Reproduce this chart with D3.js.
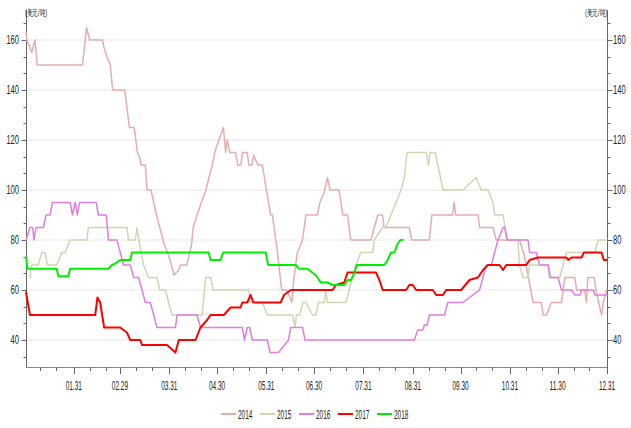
<!DOCTYPE html>
<html>
<head>
<meta charset="utf-8">
<script src="https://cdn.jsdelivr.net/npm/d3@7"></script>
<style>
body{margin:0;background:#fff;}
text{font-family:"Liberation Sans","Arial",sans-serif;fill:#222;}
</style>
</head>
<body>
<script>
const SvgWidth = 631, SvgHeight = 428;
var margin = {top: 10, right: 24, bottom: 61, left: 26};
var Width = SvgWidth - margin.left - margin.right;
var Height = SvgHeight - margin.top - margin.bottom;

// day of year (0 = 01.01, leap-year calendar), price
const years = ['2014','2015','2016','2017','2018'];
const colors = ['#e6adad','#cdd8b0','#e07ee0','#ff0000','#00ee00'];
const widths = [1.5,1.5,1.5,2,2];

const s2014 = [[0,163],[0.5,160],[3.6,155],[5.7,160],[7,150],[35.5,150],[38,165],[40,160],[48,160],[49,157],[51,153],[53,150],[54.4,140],[62,140],[65,125],[68,125],[70,115],[71.4,113],[72.3,110],[75,110],[76,100],[78.5,100],[82,90],[86.5,79],[90,73],[93,66],[96,68],[97,70],[101,70],[104,78],[105,85],[107.5,90],[110.7,96],[113,100],[117,110],[119,116],[124,125],[125.4,115],[126.4,120],[128,115],[131.7,115],[133,110],[135,110],[136,115],[139,115],[140,110],[142,110],[143,114],[145.7,110],[148.5,110],[150.5,102],[153.7,90],[154.8,90],[158,75],[160.6,60],[164,60],[167,55],[168.4,65],[170.5,75],[173.7,80],[175.8,90],[183,90],[184.6,95],[187.3,99],[189.4,105],[191,100],[196.7,100],[199,90],[202,90],[204,80],[216.7,80],[218.8,85],[221,90],[224,90],[225,85],[240.8,85],[242.3,80],[253.4,80],[255,90],[268,90],[269,95],[270,90],[284,90],[285,85],[293.4,85],[295.4,80],[310,80],[313,74],[318.6,55],[323.8,55],[324.9,50],[327,50],[330,55],[336.4,55],[338.5,65],[344.8,65],[345.9,60],[351,60],[352,55],[353,65],[357,65],[358,60],[361.6,50],[362.7,55],[364.7,60],[365,60]];
const s2015 = [[2.5,65],[3.6,70],[7.7,70],[9.9,75],[12,75],[13.4,70],[19.3,70],[22.5,75],[24.6,75],[27.7,80],[38.2,80],[39.2,85],[63.4,85],[64.4,80],[68.7,80],[69.7,85],[72.3,75],[73.9,70],[77,65],[82.3,65],[84,60],[87.6,60],[89.6,55],[91.8,50],[110.7,50],[112.8,65],[116,65],[117.6,60],[140,60],[141,55],[148.5,55],[151.6,50],[167.4,50],[169,45],[169.9,50],[172,50],[174,55],[175.8,55],[180,50],[182,50],[183.8,55],[187.3,55],[188.4,60],[189.3,55],[201,55],[203,60],[205,65],[207.3,70],[210.4,75],[217.8,75],[218.8,80],[224,85],[226,85],[229.3,90],[232.5,95],[235.6,100],[237.7,105],[239.4,115],[251.4,115],[252.8,110],[254,115],[257,115],[258.7,110],[260.4,105],[262,100],[274.5,100],[278.6,102.5],[282.8,105],[286,100],[290.2,100],[293.4,95],[294.4,90],[299.7,90],[301,85],[302,80],[309,80],[310,70],[312.3,65],[315.4,65],[316.4,70],[328,70],[330,65],[335.3,65],[337.4,70],[339.5,75],[357.4,75],[359.5,80],[365,80]];
const s2016 = [[0,80],[2.5,85],[4.2,85],[5,80],[6.3,85],[10.9,85],[12.6,90],[15.1,90],[16.6,95],[27.7,95],[29.2,90],[30.9,95],[32.3,90],[33.6,95],[44.1,95],[45.5,90],[50.4,90],[51.8,80],[57.1,80],[59.2,75],[61.3,70],[65.5,70],[67.6,65],[70.7,65],[72.9,60],[75,55],[78.1,55],[80.2,50],[82.3,45],[93.9,45],[94.9,50],[107.5,50],[109.6,45],[135.9,45],[137.3,40],[139,45],[140.5,45],[142.2,40],[151.6,40],[153.3,35],[158.6,35],[164.9,40],[166.3,45],[173.7,45],[175.3,40],[244,40],[246.1,44],[249.3,44],[250.3,46],[252,46],[253.4,50],[262.9,50],[265,55],[274.5,55],[278.6,57],[284.9,60],[287.1,65],[289.2,70],[292.3,70],[294.4,75],[296.5,80],[299.7,85],[300.7,85],[302.4,80],[315.4,80],[316.4,75],[320.6,75],[322.7,70],[328,70],[329,65],[334.3,65],[336.4,60],[342.7,60],[344.8,58],[348,58],[349,60],[356.4,60],[357.4,58],[365,58]];
const s2017 = [[0,59],[2.5,50],[43.5,50],[44.9,57],[46.6,55],[49.1,45],[59.2,45],[63.4,43],[65.5,40],[71.8,40],[72.9,38],[88.6,38],[93.9,35],[96,40],[106.5,40],[109.6,45],[113.8,48],[115.9,50],[124.3,50],[128.5,53],[134.8,53],[135.9,55],[139,55],[141.1,58],[142.8,55],[160,55],[162.1,58],[166.3,60],[192.6,60],[194.7,62],[199.9,63],[202,67],[219.9,67],[222,64],[224.1,60],[238.8,60],[240.8,62],[243,62],[245.1,60],[255.6,60],[257.7,58],[261.9,58],[264,60],[273.4,60],[278.6,64],[283.9,65],[287.1,68],[290.2,70],[297.5,70],[299.7,68],[301.7,70],[314.3,70],[316.4,72],[321.7,73],[339.5,73],[340.6,72],[342.7,73],[349,73],[350.5,75],[361.6,75],[363,72],[364.7,72]];
const s2018 = [[0,73],[1,68.5],[19.3,68.5],[20.3,65.5],[26.6,65.5],[27.7,68.5],[51.8,68.5],[54,70],[56,70.5],[59.2,72],[65.5,72],[66.6,75],[114.8,75],[115.9,72],[122.2,72],[123.9,75],[150.6,75],[152.1,70],[169.5,70],[171.5,68.5],[176.8,68.5],[182,66],[185.2,63],[189.4,63],[192.6,62],[199.9,62],[202,64],[204.1,64],[206.2,66.5],[207.7,70],[225.1,70],[227.2,72],[229.3,75],[231.4,75],[233.5,78.5],[235.2,80],[236.7,80]];
const series = [s2014,s2015,s2016,s2017,s2018];

const monthEnds = [30,59,90,120,151,181,212,243,273,304,334,365];
const monthLabels = ['01.31','02.29','03.31','04.30','05.31','06.30','07.31','08.31','09.30','10.31','11.30','12.31'];
const yTicks = [40,60,80,100,120,140,160];
const unitLabel = '(美元/吨)';

var svg = d3.select('body')
			.append('svg')
			.attr('width',SvgWidth)
			.attr('height',SvgHeight)
			.style('background-color','white');
var g = svg.append('g')
			.attr("transform",'translate('+margin.left+","+margin.top+")");

var x = d3.scaleLinear().domain([0,365]).range([0,Width]),
	y = d3.scaleLinear().domain([29.2,172]).range([Height,0]);

// squeezed text like the original narrow font
function narrow(sel, w){
	sel.attr('textLength', function(d){ return this.textContent.replace(/\./g,'').length*w + (this.textContent.split('.').length-1)*1.8; })
		.attr('lengthAdjust','spacingAndGlyphs');
}

// grid
g.selectAll('.grid').data(yTicks).enter().append('line')
	.attr('x1',0).attr('x2',Width)
	.attr('y1',d=>y(d)).attr('y2',d=>y(d))
	.attr('stroke','#e6e6e6').attr('stroke-width',1);

// minor y ticks
var minor = d3.range(1,26).map(i=>20+i*20/3).filter(v=>v>y.domain()[0] && v<y.domain()[1]);

function yAxis(side){
	var ax = g.append('g').attr('transform','translate('+(side=='left'?0:Width)+',0)');
	ax.append('line').attr('x1',0.5).attr('x2',0.5).attr('y1',0).attr('y2',Height).attr('stroke','#666');
	var dir = side=='left'?-1:1;
	ax.selectAll('.mn').data(minor).enter().append('line')
		.attr('x1',0.5).attr('x2',0.5+dir*3).attr('y1',d=>Math.round(y(d))+0.5).attr('y2',d=>Math.round(y(d))+0.5)
		.attr('stroke','#666');
	ax.selectAll('.mj').data(yTicks).enter().append('line')
		.attr('x1',0.5).attr('x2',0.5+dir*5).attr('y1',d=>Math.round(y(d))+0.5).attr('y2',d=>Math.round(y(d))+0.5)
		.attr('stroke','#666');
	ax.selectAll('text').data(yTicks).enter().append('text')
		.attr('x',dir*(side=='left'?7:6)).attr('y',d=>y(d)+4)
		.attr('text-anchor',side=='left'?'end':'start')
		.style('font-size','12px')
		.text(d=>d)
		.call(narrow,4.2);
	ax.append('text')
		.attr('x',side=='left'?-1:0).attr('y',6)
		.attr('text-anchor',side=='left'?'start':'end')
		.style('font-size','9px')
		.attr('textLength',22).attr('lengthAdjust','spacingAndGlyphs')
		.text(unitLabel);
}
yAxis('left');
yAxis('right');

// x axis
var xa = g.append('g').attr('transform','translate(0,'+Height+')');
xa.append('line').attr('x1',0).attr('x2',Width).attr('y1',0.5).attr('y2',0.5).attr('stroke','#888');
var minorDays = [];
for(let m=0;m<12;m++){
	[10,20].forEach(function(dd){ minorDays.push(d3.timeDay.count(new Date(2016,0,1), new Date(2016,m,dd))); });
}
xa.selectAll('.mn').data(minorDays).enter().append('line')
	.attr('x1',d=>Math.round(x(d))+0.5).attr('x2',d=>Math.round(x(d))+0.5)
	.attr('y1',0).attr('y2',4).attr('stroke','#666');
xa.selectAll('.mj').data(monthEnds).enter().append('line')
	.attr('x1',d=>Math.round(x(d))+0.5).attr('x2',d=>Math.round(x(d))+0.5)
	.attr('y1',0).attr('y2',7).attr('stroke','#666');
xa.selectAll('text').data(monthEnds).enter().append('text')
	.attr('x',d=>x(d)).attr('y',23)
	.attr('text-anchor','middle')
	.style('font-size','12px')
	.text((d,i)=>monthLabels[i])
	.call(narrow,3.6);

// lines
var line = d3.line()
	.x(function(d) { return x(d[0]); })
	.y(function(d) { return y(d[1]); });

series.forEach(function(s,i){
	g.append("path")
		.datum(s)
		.attr("fill", "none")
		.attr("stroke", colors[i])
		.attr("stroke-linejoin", "round")
		.attr("stroke-linecap", "round")
		.attr("stroke-width", widths[i])
		.attr("d", line);
});

// legend
var itemW = 39, total = itemW*years.length - 4;
var lx = margin.left + Width/2 - total/2;
var lg = svg.append('g').attr('transform','translate('+lx+',414)');
years.forEach(function(yr,i){
	var it = lg.append('g').attr('transform','translate('+(i*itemW)+',0)');
	it.append('line').attr('x1',0).attr('x2',15).attr('y1',0).attr('y2',0)
		.attr('stroke',colors[i]).attr('stroke-width',2);
	it.append('text').attr('x',17).attr('y',4.5)
		.style('font-size','12px')
		.text(yr)
		.call(narrow,3.6);
});
</script>
</body>
</html>
